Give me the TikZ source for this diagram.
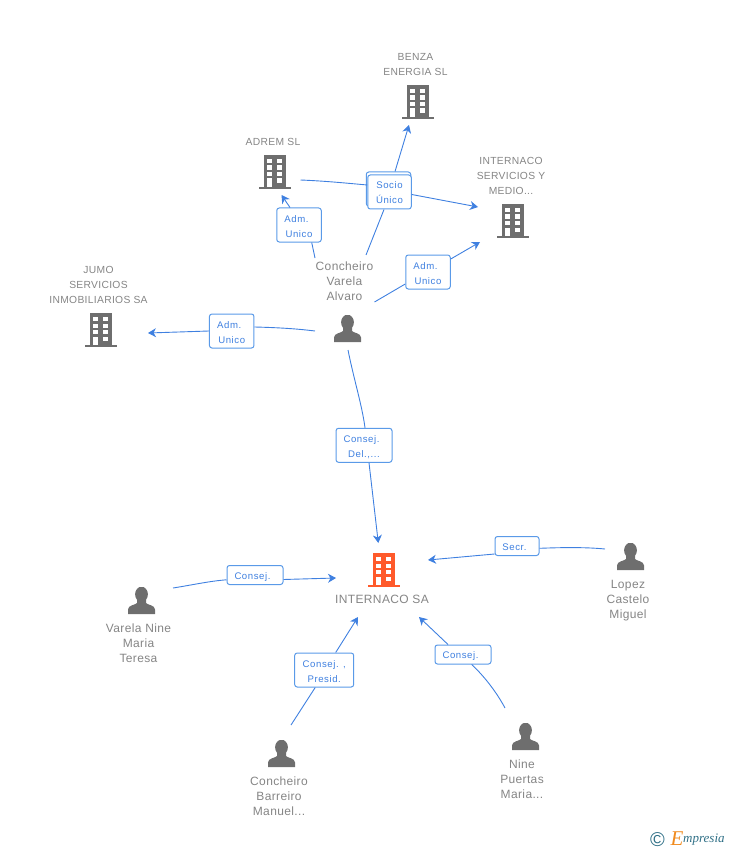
\documentclass[tikz,border=0pt]{standalone}
\usepackage{fontspec}
\setmainfont{Liberation Sans}[LetterSpace=3]
\newfontfamily\boxfont{Liberation Sans}[LetterSpace=6]
\newfontfamily\logofont{Liberation Serif}[Ligatures=TeX]
\usetikzlibrary{arrows.meta,positioning}
\definecolor{linkblue}{HTML}{3F80E0}
\definecolor{edgeblue}{HTML}{5A9AE8}
\definecolor{labelgrey}{HTML}{858585}
\definecolor{icongrey}{HTML}{6E6E6E}
\definecolor{iconorange}{HTML}{FF5A2B}
\definecolor{logoteal}{HTML}{2F6F86}
\definecolor{logoorange}{HTML}{F08A1D}
\newcommand{\tailgap}{\hspace*{5pt}}

\begin{document}
\begin{tikzpicture}[x=1pt,y=-1pt,
    building/.style={minimum width=32pt,minimum height=34pt,inner sep=0pt,path picture={
        \begin{scope}[shift={(path picture bounding box.center)}]
          \fill[#1] (-11,-17) rectangle (11,15);
          \fill[#1] (-16,14.7) rectangle (16,17);
          \foreach \wy in {-13,-6.5,0}{
            \fill[white] (-7.7,\wy) rectangle ++(4.7,4.3);
            \fill[white] (2,\wy) rectangle ++(4.9,4.3);
          }
          \fill[white] (2,6.5) rectangle ++(4.9,4.3);
          \fill[white] (-7.7,6.5) rectangle (-3,14.7);
        \end{scope}}},
    person/.style={minimum size=27pt,inner sep=0pt,path picture={
        \begin{scope}[shift={(path picture bounding box.center)}]
          \fill[icongrey] (0,-6.2) ellipse (6.4 and 7.6);
          \fill[icongrey] (-13.5,13.5) -- (-13.5,9) .. controls (-13.5,4.5) and (-6,4.5) .. (-4.5,2.5)
            -- (-4.5,-1) -- (4.5,-1) -- (4.5,2.5) .. controls (6,4.5) and (13.5,4.5) .. (13.5,9) -- (13.5,13.5) -- cycle;
        \end{scope}}},
    rolebox/.style={draw=edgeblue,line width=1pt,fill=white,rounded corners=2.5pt,text=linkblue,
      inner sep=0pt,align=center,font=\boxfont\fontsize{9.6}{15}\selectfont},
    onerow/.style={rolebox,minimum height=19pt,text height=8.6pt,text depth=0pt},
    tworow/.style={rolebox,minimum height=34pt,text height=24pt,text depth=0pt},
    namelabel/.style={text=labelgrey,align=center,inner sep=0pt,font=\fontsize{12}{15}\selectfont},
    firmlabel/.style={text=labelgrey,align=center,inner sep=0pt,font=\fontsize{10.3}{15}\selectfont},
    link/.style={draw=linkblue,line width=0.9pt},
    arrowlink/.style={link,-{Stealth[length=8pt,width=9pt,inset=2.5pt]}}]
  \useasboundingbox (0,0) rectangle (728,850);

  % companies
  \node [building=icongrey] (benza) at (418,102) {};
  \node [building=icongrey] (adrem) at (275,172) {};
  \node [building=icongrey] (medio) at (513,221) {};
  \node [building=icongrey] (jumo) at (101,330) {};
  \node [building=iconorange] (internaco) at (384,570) {};
  \node [firmlabel] (benzatext) at (415.5,64.5) {BENZA\\ENERGIA SL};
  \node [firmlabel] (adremtext) at (273,142) {ADREM SL};
  \node [firmlabel] (mediotext) at (511,176) {INTERNACO\\SERVICIOS Y\\MEDIO...};
  \node [firmlabel] (jumotext) at (98.5,285) {JUMO\\SERVICIOS\\INMOBILIARIOS SA};
  \node [namelabel] (internacotext) at (382,599) {INTERNACO SA};

  % people
  \node [person] (alvaro) at (347.5,328.5) {};
  \node [person] (lopez) at (630.5,556.5) {};
  \node [person] (teresa) at (141.5,600.5) {};
  \node [person] (manuel) at (281.5,753.5) {};
  \node [person] (nine) at (525.5,736.5) {};
  \node [namelabel] (alvarotext) at (344.5,281) {Concheiro\\Varela\\Alvaro};
  \node [namelabel] (lopeztext) at (628,600.5) {Lopez\\Castelo\\Miguel};
  \node [namelabel] (teresatext) at (138.5,643.5) {Varela Nine\\Maria\\Teresa};
  \node [namelabel] (manueltext) at (279,796.5) {Concheiro\\Barreiro\\Manuel...};
  \node [namelabel] (ninetext) at (522,779) {Nine\\Puertas\\Maria...};

  % role boxes
  \node [tworow,minimum width=44.5pt] (socioback) at (388.5,189) {};
  \node [tworow,minimum width=43.5pt] (sociobox) at (389.5,192) {Socio\\Único};
  \node [tworow,minimum width=44.5pt] (adrembox) at (299,225) {Adm.\tailgap\\Unico};
  \node [tworow,minimum width=44.5pt] (mediobox) at (428,272) {Adm.\tailgap\\Unico};
  \node [tworow,minimum width=44.5pt] (jumobox) at (231.7,331) {Adm.\tailgap\\Unico};
  \node [tworow,minimum width=56pt] (delbox) at (364,445.3) {Consej.\tailgap\\Del.,...};
  \node [onerow,minimum width=44pt] (secrbox) at (517,546) {Secr.\tailgap};
  \node [onerow,minimum width=56pt] (teresabox) at (255,575) {Consej.\tailgap};
  \node [tworow,minimum width=59pt] (presidbox) at (324.2,670) {Consej. ,\\Presid.};
  \node [onerow,minimum width=56pt] (ninebox) at (463,654.5) {Consej.\tailgap};

  % free ends of the connectors
  \coordinate (benzatip) at (409,125);
  \coordinate (sociofrom) at (366,255);
  \coordinate (adremfrom) at (300.5,180);
  \coordinate (mediotip) at (478,207);
  \coordinate (adremtip) at (281.5,195);
  \coordinate (adremstart) at (315,258);
  \coordinate (medioup) at (480,242);
  \coordinate (mediostart) at (374.5,302);
  \coordinate (jumotip) at (148,333);
  \coordinate (jumostart) at (315,331);
  \coordinate (delstart) at (348,350);
  \coordinate (deltip) at (378.3,543);
  \coordinate (secrstart) at (605,549);
  \coordinate (secrtip) at (428,560);
  \coordinate (teresastart) at (173,588);
  \coordinate (teresatip) at (336,578);
  \coordinate (presidstart) at (291,725);
  \coordinate (presidtip) at (358,617);
  \coordinate (ninestart) at (505,708);
  \coordinate (ninetip) at (419,617);

  % connectors
  \draw [link] (sociofrom) -- ([xshift=-5.5pt]sociobox.south);
  \draw [arrowlink] ([xshift=6.5pt]socioback.north) -- (benzatip);
  \draw [link] (adremfrom) .. controls (325,181) and (345,183) .. ([yshift=7pt]sociobox.west);
  \draw [arrowlink] ([yshift=-2.5pt]sociobox.east) -- (mediotip);
  \draw [link] (adremstart) -- ([xshift=12.7pt]adrembox.south);
  \draw [arrowlink] ([xshift=-9pt]adrembox.north) -- (adremtip);
  \draw [link] (mediostart) -- ([yshift=-12pt]mediobox.west);
  \draw [arrowlink] ([yshift=13pt]mediobox.east) -- (medioup);
  \draw [link] (jumostart) .. controls (295,328.5) and (275,327.5) .. ([yshift=4pt]jumobox.east);
  \draw [arrowlink] (jumobox.west) -- (jumotip);
  \draw [link] (delstart) .. controls (354,380) and (362,405) .. ([xshift=1pt]delbox.north);
  \draw [arrowlink] ([xshift=5pt]delbox.south) -- (deltip);
  \draw [link] (secrstart) .. controls (585,547) and (560,547.5) .. ([yshift=-2.3pt]secrbox.east);
  \draw [arrowlink] ([yshift=-8pt]secrbox.west) -- (secrtip);
  \draw [link] (teresastart) .. controls (192,585) and (210,581) .. ([yshift=-4.8pt]teresabox.west);
  \draw [arrowlink] ([yshift=-4.5pt]teresabox.east) -- (teresatip);
  \draw [link] (presidstart) -- ([xshift=-9pt]presidbox.south);
  \draw [arrowlink] ([xshift=11.5pt]presidbox.north) -- (presidtip);
  \draw [link] (ninestart) .. controls (497,693) and (485,677) .. ([xshift=8.7pt]ninebox.south);
  \draw [arrowlink] ([xshift=-15pt]ninebox.north) -- (ninetip);

  % logo
  \node [inner sep=0pt,text=logoteal,font=\fontsize{20}{20}\selectfont] (copymark) at (657.5,839.5) {\textcopyright};
  \node [inner sep=0pt,text=logoorange,font=\logofont\itshape\fontsize{21}{21}\selectfont] (logoe) at (677,838.5) {E};
  \node [inner sep=0pt,text=logoteal,font=\logofont\itshape\fontsize{13}{13}\selectfont,anchor=west] (logotext) at (683,840) {mpresia};
\end{tikzpicture}
\end{document}
